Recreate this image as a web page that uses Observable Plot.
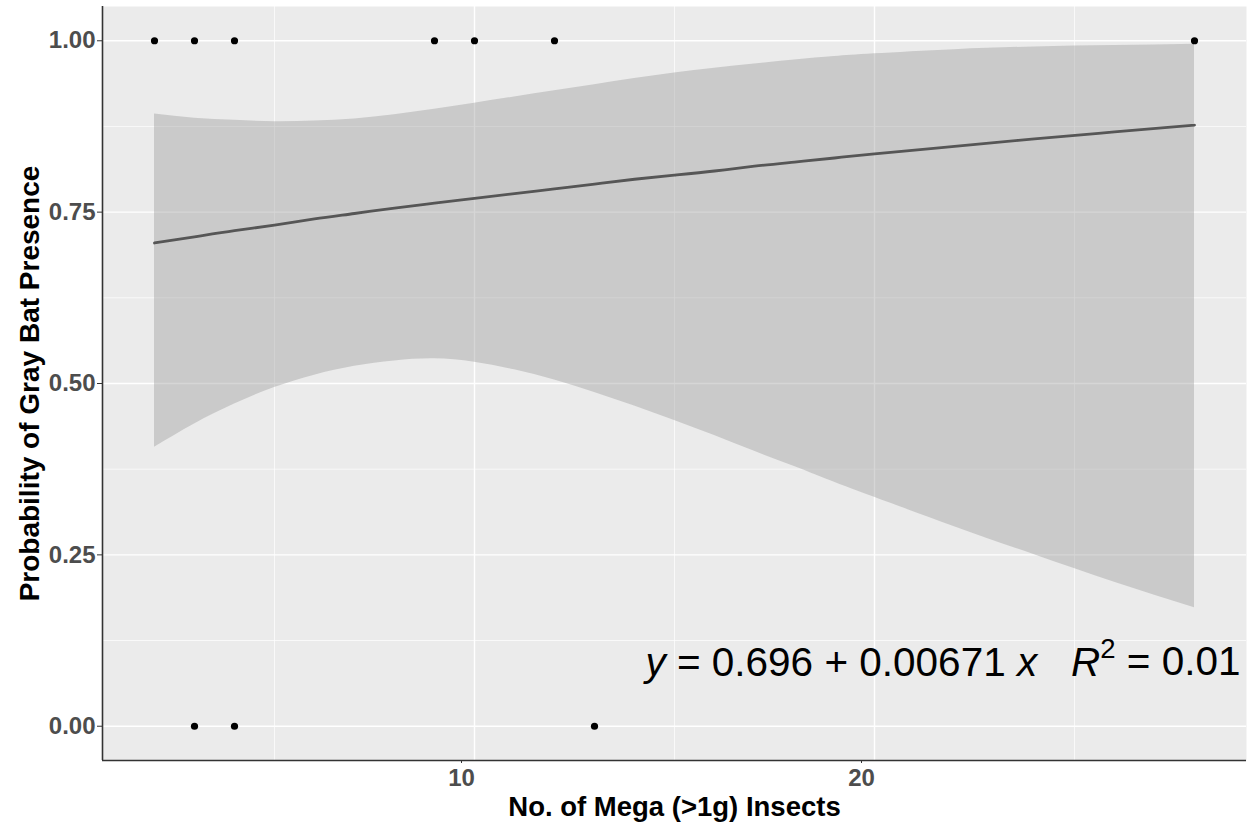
<!DOCTYPE html>
<html>
<head>
<meta charset="utf-8">
<script src="https://cdn.jsdelivr.net/npm/d3@7"></script>
<script src="https://cdn.jsdelivr.net/npm/@observablehq/plot@0.6"></script>
<style>
  html, body { margin: 0; padding: 0; background: #ffffff; }
  #chart svg { display: block; }
  #chart g[aria-label$="tick label"] text { font-weight: bold; }
</style>
</head>
<body>
<div id="chart"></div>
<script>
// Observed points (x = number of mega insects, y = gray bat presence 0/1)
const pointsX = [2, 3, 4, 9, 10, 12, 28, 3, 4, 13];
const pointsY = [1, 1, 1, 1, 1, 1, 1, 0, 0, 0];

// Fitted curve and confidence band
const fitX    = [2, 3, 4, 5, 6, 7, 8, 9, 10, 11, 12, 13, 14, 15, 16, 17, 18, 19, 20, 22, 24, 26, 28];
const fitY    = [0.705, 0.714, 0.723, 0.731, 0.740, 0.748, 0.756, 0.763, 0.770, 0.777, 0.784, 0.791, 0.798, 0.804, 0.810, 0.817, 0.823, 0.829, 0.835, 0.846, 0.857, 0.867, 0.877];
const bandLow = [0.407, 0.441, 0.470, 0.494, 0.512, 0.525, 0.533, 0.536, 0.531, 0.520, 0.505, 0.487, 0.467, 0.446, 0.424, 0.401, 0.379, 0.356, 0.334, 0.291, 0.250, 0.210, 0.173];
const bandHigh= [0.893, 0.887, 0.884, 0.882, 0.883, 0.886, 0.892, 0.900, 0.909, 0.918, 0.927, 0.936, 0.945, 0.953, 0.960, 0.966, 0.972, 0.977, 0.981, 0.987, 0.991, 0.993, 0.995];

// Axis ticks
const xMajorTicks = [10, 20];
const xMinorTicks = [5, 15, 25];
const yMajorTicks = [0, 0.25, 0.5, 0.75, 1];
const yMinorTicks = [0.125, 0.375, 0.625, 0.875];

// Text
const xTitle = "No. of Mega (>1g) Insects";
const yTitle = "Probability of Gray Bat Presence";
const eqIntercept = "0.696";
const eqSlope = "0.00671";
const eqR2 = "0.01";

// Tables
const points = pointsX.map((x, i) => ({x, y: pointsY[i]}));
const fit = fitX.map((x, i) => ({x, y: fitY[i], lo: bandLow[i], hi: bandHigh[i]}));

// ggplot-like 5% expansion of the domains
const xExt = d3.extent(pointsX), yExt = d3.extent(pointsY);
const xPad = 0.05 * (xExt[1] - xExt[0]), yPad = 0.05 * (yExt[1] - yExt[0]);
const xDomain = [xExt[0] - xPad, xExt[1] + xPad];
const yDomain = [yExt[0] - yPad, yExt[1] + yPad];

const eqText = `y = ${eqIntercept} + ${eqSlope} x   R2 = ${eqR2}`;

const font = "'Liberation Sans', Arial, Helvetica, sans-serif";

const chart = Plot.plot({
  width: 1252,
  height: 826,
  marginLeft: 102,
  marginRight: 6,
  marginTop: 6,
  marginBottom: 66,
  style: {fontFamily: font, background: "#ffffff", overflow: "visible"},
  x: {domain: xDomain},
  y: {domain: yDomain},
  marks: [
    Plot.frame({fill: "#ebebeb", stroke: null}),
    Plot.gridY(yMinorTicks, {stroke: "#ffffff", strokeOpacity: 1, strokeWidth: 0.7}),
    Plot.gridX(xMinorTicks, {stroke: "#ffffff", strokeOpacity: 1, strokeWidth: 0.7}),
    Plot.gridY(yMajorTicks, {stroke: "#ffffff", strokeOpacity: 1, strokeWidth: 1.4}),
    Plot.gridX(xMajorTicks, {stroke: "#ffffff", strokeOpacity: 1, strokeWidth: 1.4}),
    Plot.areaY(fit, {x: "x", y1: "lo", y2: "hi", fill: "#999999", fillOpacity: 0.4, curve: "natural"}),
    Plot.line(fit, {x: "x", y: "y", stroke: "#565656", strokeWidth: 2.8, curve: "natural"}),
    Plot.dot(points, {x: "x", y: "y", r: 3.6, fill: "#000000", stroke: null}),
    Plot.axisY(yMajorTicks, {
      tickFormat: d3.format(".2f"), fontSize: 24, fill: "#4d4d4d", stroke: "#333333",
      tickSize: 5, tickPadding: 2, label: null
    }),
    Plot.axisX(xMajorTicks, {
      tickFormat: d => String(d), fontSize: 24, fill: "#4d4d4d", stroke: "#333333",
      tickSize: 3, tickPadding: 5, dx: -13, label: null
    }),
    Plot.ruleX([xDomain[0]], {stroke: "#333333", strokeWidth: 1.6, y1: yDomain[0], y2: yDomain[1]}),
    Plot.ruleY([yDomain[0]], {stroke: "#333333", strokeWidth: 1.6, x1: xDomain[0], x2: xDomain[1]}),
    Plot.text([xTitle], {
      text: d => d, frameAnchor: "bottom", textAnchor: "middle", lineAnchor: "bottom", dy: 55,
      fontSize: 27.5, fontWeight: "bold", fill: "#000000"
    }),
    Plot.text([yTitle], {
      text: d => d, frameAnchor: "left", textAnchor: "middle", lineAnchor: "bottom", rotate: -90, dx: -64,
      fontSize: 28, fontWeight: "bold", fill: "#000000"
    }),
    Plot.text([eqText], {
      text: d => d, frameAnchor: "bottom-right", textAnchor: "end", lineAnchor: "bottom",
      dx: -6, dy: -85, fontSize: 40.5, fill: "#000000"
    })
  ]
});

document.getElementById("chart").appendChild(chart);

// Rich formatting of the equation (italic variables, superscript 2)
d3.select(chart).selectAll("text").each(function() {
  if (this.textContent !== eqText) return;
  const t = d3.select(this);
  t.text(null).style("white-space", "pre");
  t.append("tspan").attr("font-style", "italic").text("y");
  t.append("tspan").text(` = ${eqIntercept} + ${eqSlope} `);
  t.append("tspan").attr("font-style", "italic").text("x");
  t.append("tspan").text("   ");
  t.append("tspan").attr("font-style", "italic").text("R");
  t.append("tspan").attr("font-size", "0.68em").attr("dy", "-0.62em").text("2");
  t.append("tspan").attr("dy", "0.42em").text(` = ${eqR2}`);
});
</script>
</body>
</html>
